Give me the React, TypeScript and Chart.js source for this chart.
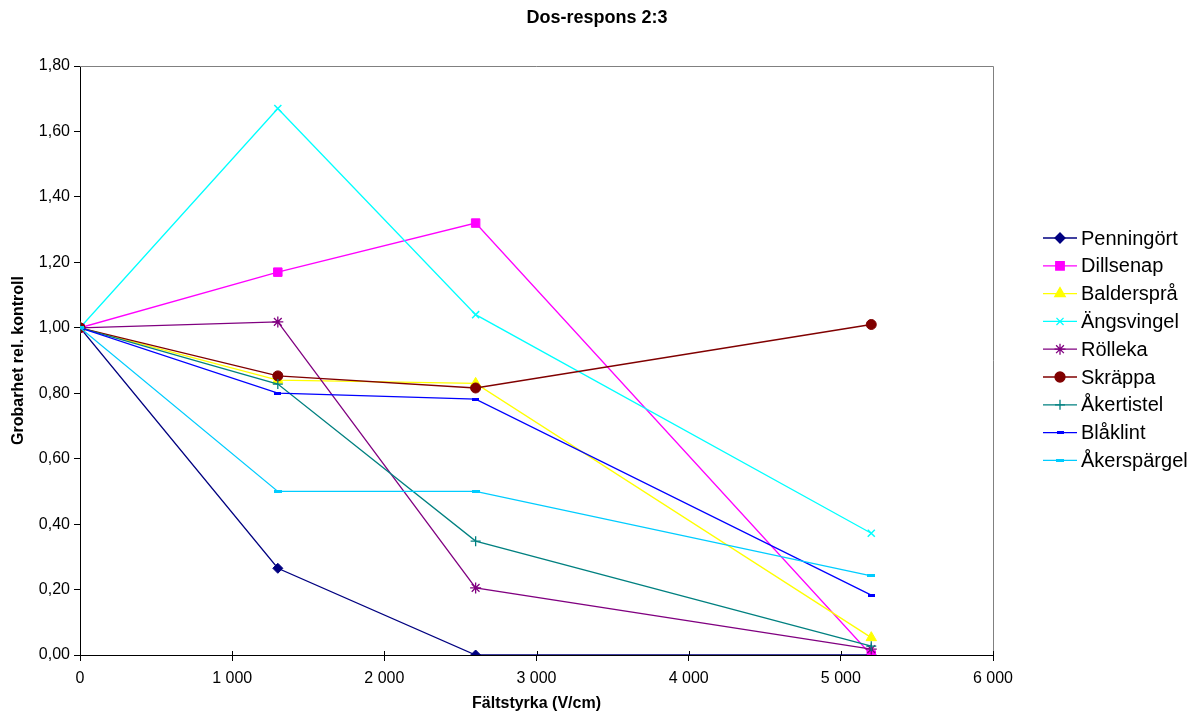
import React, { useEffect, useRef } from "react";
import { Chart, registerables } from "chart.js";
import { drawPoint } from "chart.js/helpers";

Chart.register(...registerables);

const xValues = [0, 1300, 2600, 5200];
const xTickValues = [1000, 2000, 3000, 4000, 5000, 6000];
const seriesNames = ["Penningört", "Dillsenap", "Baldersprå", "Ängsvingel", "Rölleka", "Skräppa", "Åkertistel", "Blåklint", "Åkerspärgel"];
const penningort = [1.0, 0.265, 0.0, 0.0];
const dillsenap = [1.0, 1.17, 1.32, 0.0];
const balderspra = [1.0, 0.84, 0.83, 0.053];
const angsvingel = [1.0, 1.67, 1.04, 0.372];
const rolleka = [1.0, 1.018, 0.205, 0.018];
const skrappa = [1.0, 0.853, 0.816, 1.01];
const akertistel = [1.0, 0.828, 0.348, 0.027];
const blaklint = [1.0, 0.8, 0.782, 0.183];
const akerspargel = [1.0, 0.5, 0.5, 0.242];
const seriesValues = [penningort, dillsenap, balderspra, angsvingel, rolleka, skrappa, akertistel, blaklint, akerspargel];
const colors = ["#000080", "#FF00FF", "#FFFF00", "#00FFFF", "#800080", "#800000", "#008080", "#0000FF", "#00CCFF"];

function dash(w: number, h: number, color: string) {
  const c = document.createElement("canvas");
  c.width = w;
  c.height = h;
  const ctx = c.getContext("2d")!;
  ctx.fillStyle = color;
  ctx.fillRect(0, 0, w, h);
  return c;
}

const TITLE = "Dos-respons 2:3";
const XTITLE = "Fältstyrka (V/cm)";
const YTITLE = "Grobarhet rel. kontroll";
const FONT = "'Liberation Sans', Arial, sans-serif";

export default function App() {
  const ref = useRef<HTMLCanvasElement>(null);
  useEffect(() => {
    const styles: any[] = [
      { s: "rectRot", r: 5, bw: 1 },
      { s: "rect", r: 6, bw: 1 },
      { s: "triangle", r: 6, bw: 1 },
      { s: "crossRot", r: 5, bw: 1.5 },
      { s: "star", r: 5.5, bw: 1.3 },
      { s: "circle", r: 5, bw: 1 },
      { s: "cross", r: 5, bw: 1.3 },
      { s: dash(7, 3, colors[7]), r: 4, bw: 1 },
      { s: dash(8, 3, colors[8]), r: 4, bw: 1 },
    ];
    const datasets = seriesNames.map((name, i) => ({
      label: name,
      order: -i,
      data: xValues.map((x, j) => ({ x, y: seriesValues[i][j] })),
      borderColor: colors[i],
      backgroundColor: colors[i],
      borderWidth: 1.3,
      pointStyle: styles[i].s,
      pointRadius: styles[i].r,
      pointBorderWidth: styles[i].bw,
      pointBackgroundColor: colors[i],
      pointBorderColor: colors[i],
      tension: 0,
      fill: false,
    }));

    const decor = {
      id: "decor",
      beforeDatasetsDraw(chart: any) {
        const { ctx, chartArea: a } = chart;
        ctx.save();
        ctx.strokeStyle = "#808080";
        ctx.lineWidth = 1;
        ctx.beginPath();
        ctx.moveTo(a.left, a.top + 0.5);
        ctx.lineTo(a.right + 0.5, a.top + 0.5);
        ctx.lineTo(a.right + 0.5, a.bottom);
        ctx.stroke();
        ctx.strokeStyle = "#000";
        const xs = chart.scales.x;
        ctx.beginPath();
        xTickValues.forEach((v) => {
          const px = Math.round(xs.getPixelForValue(v)) + 0.5;
          ctx.moveTo(px, a.bottom - 4);
          ctx.lineTo(px, a.bottom);
        });
        ctx.stroke();
        ctx.restore();
      },
      afterDraw(chart: any) {
        const { ctx, chartArea: a } = chart;
        ctx.save();
        ctx.fillStyle = "#000";
        ctx.textAlign = "center";
        ctx.textBaseline = "middle";
        ctx.font = `bold 18px ${FONT}`;
        ctx.fillText(TITLE, 597, 18);
        ctx.font = `bold 16px ${FONT}`;
        ctx.fillText(XTITLE, (a.left + a.right) / 2, 704);
        ctx.save();
        ctx.translate(19, (a.top + a.bottom) / 2);
        ctx.rotate(-Math.PI / 2);
        ctx.fillText(YTITLE, 0, 0);
        ctx.restore();
        ctx.font = `20px ${FONT}`;
        ctx.textAlign = "left";
        seriesNames.forEach((name, i) => {
          const y = 238 + i * 27.8;
          ctx.strokeStyle = colors[i];
          ctx.lineWidth = 1.3;
          ctx.beginPath();
          ctx.moveTo(1043, y);
          ctx.lineTo(1077, y);
          ctx.stroke();
          ctx.fillStyle = colors[i];
          drawPoint(ctx, { pointStyle: styles[i].s, radius: styles[i].r, borderWidth: styles[i].bw, rotation: 0 } as any, 1060, y);
          ctx.fillStyle = "#000";
          ctx.fillText(name, 1081, y + 1);
        });
        ctx.restore();
      },
    };

    const chart = new Chart(ref.current!, {
      type: "line",
      data: { datasets },
      options: {
        animation: false,
        responsive: false,
        maintainAspectRatio: false,
        layout: { padding: { top: 66, right: 204, left: 0, bottom: 0 } },
        plugins: { legend: { display: false }, title: { display: false }, tooltip: { enabled: false } },
        scales: {
          x: {
            type: "linear",
            min: 0,
            max: 6000,
            afterFit: (s: any) => { s.height = 60; },
            ticks: {
              stepSize: 1000,
              color: "#000",
              padding: 8,
              font: { size: 16, family: FONT },
              callback: (v: any) => (v >= 1000 ? Math.floor(v / 1000) + " " + String(v % 1000).padStart(3, "0") : String(v)),
              maxRotation: 0,
            },
            grid: { drawOnChartArea: false, tickLength: 6, color: "#000" },
            border: { color: "#000", width: 1 },
          },
          y: {
            type: "linear",
            min: 0,
            max: 1.8,
            afterFit: (s: any) => { s.width = 80; },
            ticks: {
              stepSize: 0.2,
              color: "#000",
              padding: 4,
              font: { size: 16, family: FONT },
              callback: (v: any) => Number(v).toFixed(2).replace(".", ","),
            },
            grid: { drawOnChartArea: false, tickLength: 6, color: "#000" },
            border: { color: "#000", width: 1 },
          },
        },
      },
      plugins: [decor],
    });
    return () => chart.destroy();
  }, []);
  return (
    <div style={{ position: "fixed", left: 0, top: 0, width: 1197, height: 715, background: "#fff" }}>
      <canvas ref={ref} width={1197} height={715} style={{ width: 1197, height: 715 }} />
    </div>
  );
}
